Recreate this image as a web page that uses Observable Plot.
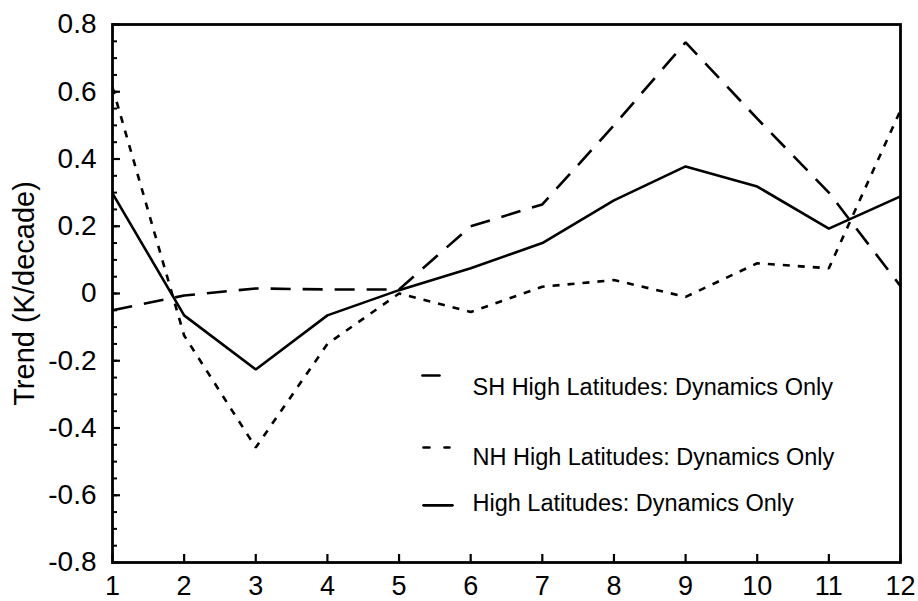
<!DOCTYPE html>
<html>
<head>
<meta charset="utf-8">
<script src="https://cdn.jsdelivr.net/npm/d3@7"></script>
<script src="https://cdn.jsdelivr.net/npm/@observablehq/plot@0.6"></script>
<style>
  html, body { margin: 0; padding: 0; background: #fff; }
  #chart svg { display: block; font-family: "Liberation Sans", Arial, Helvetica, sans-serif; }
</style>
</head>
<body>
<div id="chart"></div>
<script>
const months = [1, 2, 3, 4, 5, 6, 7, 8, 9, 10, 11, 12];
const shHigh = [-0.05, -0.006, 0.015, 0.012, 0.012, 0.20, 0.265, 0.50, 0.747, 0.52, 0.30, 0.022];
const nhHigh = [0.613, -0.125, -0.458, -0.15, 0.0, -0.055, 0.02, 0.04, -0.01, 0.09, 0.075, 0.545];
const highLat = [0.298, -0.065, -0.226, -0.065, 0.01, 0.075, 0.15, 0.277, 0.378, 0.318, 0.193, 0.289];
const seriesNames = ["SH High Latitudes: Dynamics Only", "NH High Latitudes: Dynamics Only", "High Latitudes: Dynamics Only"];
const dashes = ["20,12", "7,8", null];
const legendDashes = ["20,12", "6,15", null];
const yMajor = [-0.8, -0.6, -0.4, -0.2, 0, 0.2, 0.4, 0.6, 0.8];
const yMinor = d3.range(-0.8, 0.8001, 0.05).map(v => +v.toFixed(2));
const yLabels = ["-0.8", "-0.6", "-0.4", "-0.2", "0", "0.2", "0.4", "0.6", "0.8"];

const allSeries = [shHigh, nhHigh, highLat];
const lineMarks = allSeries.map((vals, i) =>
  Plot.line(months.map((m, j) => ({x: m, y: vals[j]})), {
    x: "x", y: "y", stroke: "#000", strokeWidth: 2.6,
    strokeDasharray: dashes[i] ?? undefined, strokeLinejoin: "miter", strokeLinecap: "butt"
  })
);

// legend (positions in data space)
const legendY = [-0.244, -0.458, -0.63];
const legendTextY = [-0.28, -0.488, -0.625];
const legendLineX = [[5.327, 5.565], [5.341, 5.704], [5.341, 5.746]];
const legendMarks = [];
seriesNames.forEach((name, i) => {
  legendMarks.push(Plot.line([{x: legendLineX[i][0], y: legendY[i]}, {x: legendLineX[i][1], y: legendY[i]}], {
    x: "x", y: "y", stroke: "#000", strokeWidth: 2.6, strokeDasharray: legendDashes[i] ?? undefined
  }));
  legendMarks.push(Plot.text([name], {
    x: 6.025, y: legendTextY[i], text: d => d, textAnchor: "start", fontSize: 23.5, fill: "#000"
  }));
});

const chart = Plot.plot({
  width: 918,
  height: 601,
  marginLeft: 112,
  marginRight: 18,
  marginTop: 24,
  marginBottom: 39,
  style: {fontFamily: "'Liberation Sans', Arial, Helvetica, sans-serif", color: "#000", background: "#fff", overflow: "visible"},
  x: {domain: [1, 12]},
  y: {domain: [-0.8, 0.8]},
  marks: [
    Plot.axisY({ticks: yMinor, tickSize: -5, text: null, strokeWidth: 2, label: null}),
    Plot.axisY({ticks: yMajor, tickSize: -8, text: null, strokeWidth: 2.2, label: null}),
    Plot.axisY({ticks: yMajor, tickSize: 0, tickPadding: 16, tickFormat: (d, i) => yLabels[i], fontSize: 28, label: null}),
    Plot.axisX({ticks: months, tickSize: -8, text: null, strokeWidth: 2.2, label: null}),
    Plot.axisX({ticks: months, tickSize: 0, tickPadding: 13, fontSize: 27, label: null}),
    Plot.text(["Trend (K/decade)"], {frameAnchor: "left", textAnchor: "middle", text: d => d, rotate: -90, dx: -88, fontSize: 29, fill: "#000"}),
    ...lineMarks,
    ...legendMarks,
    Plot.frame({stroke: "#000", strokeWidth: 2.8})
  ]
});
document.getElementById("chart").appendChild(chart);
</script>
</body>
</html>
